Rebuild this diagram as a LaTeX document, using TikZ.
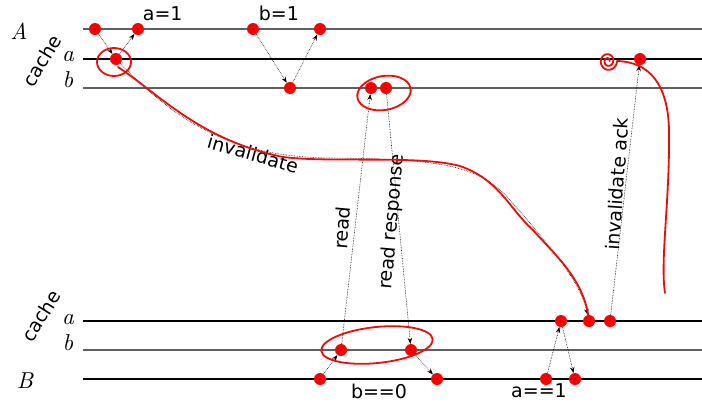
\documentclass[tikz,border=0pt]{standalone}
\usepackage{fontspec}
\setsansfont{DejaVu Sans}
\newfontfamily\lmr{lmroman10-regular.otf}[ItalicFont=lmroman10-italic.otf]
\usepackage{tikz}
\usetikzlibrary{arrows.meta,positioning}
\definecolor{DotRed}{RGB}{250,0,0}
\definecolor{PenRed}{RGB}{240,10,10}
\definecolor{LineGray}{RGB}{95,95,95}
\newcommand{\lineid}[1]{{\lmr\itshape\fontsize{23}{25}\selectfont #1}}

\begin{document}
\begin{tikzpicture}[
    x=1pt, y=1pt,
    font=\sffamily\fontsize{19}{22}\selectfont,
    event/.style={
      circle,
      fill=DotRed,
      inner sep=0pt,
      minimum size=12pt,
      path picture={\fill[black] (path picture bounding box.center) circle (0.6pt);}
    },
    msg/.style={densely dotted, line width=0.6pt, -{Stealth[length=6pt,width=4.5pt]}},
    track/.style={line width=1.2pt},
    pen/.style={PenRed, line width=1.8pt, line cap=round, line join=round}
  ]
  \useasboundingbox (0,0) rectangle (702,-402);

  % time lines
  \foreach \y/\c in {29/LineGray, 59/black, 88/LineGray, 321/black, 350/LineGray, 379/black}
    \draw[track, \c] (83,-\y) -- (702,-\y);

  % line labels
  \node (lA) at (19,-31) {\lineid{A}};
  \node[rotate=59] (lcacheA) at (42,-61) {cache};
  \node (laA) at (68,-57) {\lineid{a}};
  \node (lbA) at (68,-80) {\lineid{b}};
  \node[rotate=58] (lcacheB) at (41,-316) {cache};
  \node (laB) at (68,-320) {\lineid{a}};
  \node (lbB) at (68,-343) {\lineid{b}};
  \node (lB) at (25,-381) {\lineid{B}};

  % events, processor A side
  \node[event] (A1) at (95,-29) {};
  \node[event] (A2) at (138,-29) {};
  \node[event] (A3) at (253,-29) {};
  \node[event] (A4) at (320,-29) {};
  \node[event] (ta1) at (116,-59) {};
  \node[event] (ta2) at (640,-59) {};
  \node[event] (tb1) at (290,-88) {};
  \node[event] (tb2) at (371,-88) {};
  \node[event] (tb3) at (386,-88) {};

  % events, processor B side
  \node[event] (ba1) at (561,-321) {};
  \node[event] (ba2) at (589,-321) {};
  \node[event] (ba3) at (610,-321) {};
  \node[event] (bb1) at (341,-350) {};
  \node[event] (bb2) at (411,-350) {};
  \node[event] (B1) at (320,-379) {};
  \node[event] (B2) at (437,-379) {};
  \node[event] (B3) at (546,-379) {};
  \node[event] (B4) at (575,-379) {};

  % operation labels
  \node[above right=0pt and -3pt of A2] (wa) {a=1};
  \node[above right=0pt and -2pt of A3] (wb) {b=1};
  \node (rb) at (379,-391) {b==0};
  \node (ra) at (539,-391) {a==1};

  % messages
  \draw[msg] (A1) -- (ta1);
  \draw[msg] (ta1) -- (A2);
  \draw[msg] (A3) -- (tb1);
  \draw[msg] (tb1) -- (A4);
  \draw[msg] (B1) -- (bb1);
  \draw[msg] (bb1) -- (tb2);
  \draw[msg] (tb3) -- (bb2);
  \draw[msg] (bb2) -- (B2);
  \draw[msg] (B3) -- (ba1);
  \draw[msg] (ba1) -- (B4);
  \draw[msg] (ba3) -- (ta2);
  \coordinate (inv1) at (330,-158);
  \coordinate (inv2) at (510,-200);
  \draw[msg] (ta1) .. controls (175,-120) and (230,-157) .. (inv1)
    .. controls (440,-159) and (480,-165) .. (inv2)
    .. controls (545,-240) and (580,-280) .. (ba2);

  % message labels
  \node[rotate=-16] (linv) at (253,-154) {invalidate};
  \node[rotate=85] (lread) at (342,-228) {read};
  \node[rotate=85] (lresp) at (392,-222) {read response};
  \node[rotate=86] (lack) at (617,-184) {invalidate ack};

  % hand-drawn marks
  \draw[pen] (114,-62) ellipse [x radius=17, y radius=14];
  \draw[pen] (118,-67) .. controls (160,-95) and (200,-140) .. (283,-157)
    .. controls (330,-163) and (420,-155) .. (460,-166)
    .. controls (500,-180) and (510,-210) .. (533,-230)
    .. controls (555,-255) and (585,-280) .. (ba2.center);
  \draw[pen, rotate around={10:(384,-93)}] (384,-93) ellipse [x radius=27, y radius=17];
  \draw[pen, rotate around={6:(377,-345)}] (377,-345) ellipse [x radius=56, y radius=18];
  \draw[pen] plot[domain=0:720, samples=90, smooth]
      ({608+(1.5+\x/95)*cos(\x)}, {-61+(1.8+\x/90)*sin(\x)})
    .. controls (650,-62) and (668,-85) .. (669,-130)
    .. controls (670,-200) and (660,-260) .. (665,-293);
\end{tikzpicture}
\end{document}
